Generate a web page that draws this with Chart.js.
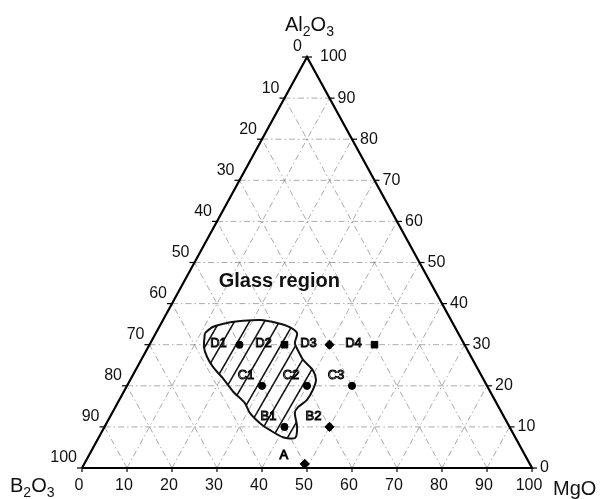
<!DOCTYPE html>
<html>
<head>
<meta charset="utf-8">
<script src="https://cdn.jsdelivr.net/npm/chart.js@4/dist/chart.umd.min.js"></script>
<style>
  html, body { margin: 0; padding: 0; background: #fff; }
  canvas { display: block; }
</style>
</head>
<body>
<canvas id="c" width="601" height="499"></canvas>
<script>
// Tick values along each edge of the ternary diagram (mol %)
const edgeTicks = [0, 10, 20, 30, 40, 50, 60, 70, 80, 90, 100];
const gridLevels = [10, 20, 30, 40, 50, 60, 70, 80, 90];

// Glass compositions (mol %)
const sampleNames = ['A', 'B1', 'B2', 'C1', 'C2', 'C3', 'D1', 'D2', 'D3', 'D4'];
const sampleAl2O3 = [1, 10, 10, 20, 20, 20, 30, 30, 30, 30];
const sampleMgO   = [49, 40, 50, 30, 40, 50, 20, 30, 40, 50];
const sampleB2O3  = [50, 50, 40, 50, 40, 30, 50, 40, 30, 20];
const sampleMarks = ['rectRot', 'circle', 'rectRot', 'circle', 'circle', 'circle', 'circle', 'rect', 'rectRot', 'rect'];

// Boundary of the glass-forming region (Al2O3, MgO in mol %)
const regionAl2O3 = [32.8, 34.3, 35.3, 35.8, 36.0, 35.3, 34.3, 32.8, 30.4, 28.7, 26.3, 23.8, 21.4, 19.0, 16.5, 14.8, 13.4, 10.0, 7.3, 7.5, 9.2, 10.9, 13.4, 15.8, 18.5, 21.9, 24.6, 27.0, 29.4];
const regionMgO   = [10.9, 11.9, 14.6, 17.9, 21.6, 25.7, 29.0, 31.4, 32.1, 33.6, 36.0, 39.4, 41.3, 41.8, 41.7, 40.6, 40.6, 42.8, 43.7, 40.9, 37.2, 34.1, 30.6, 28.3, 24.4, 20.3, 16.8, 14.3, 12.4];

const regionTitle = 'Glass region';
const regionTitleAt = { al: 45.3, mgo: 21.2 };

// Ternary (Al2O3, MgO) -> cartesian plot coordinates
function tern(al, mgo) { return { x: mgo + al / 2, y: al }; }

// Diagonal hatch used inside the glass-forming region
function makeHatch() {
  const w = 15, h = 26;
  const cv = document.createElement('canvas');
  cv.width = w; cv.height = h;
  const g = cv.getContext('2d');
  g.strokeStyle = '#111';
  g.lineWidth = 1.6;
  for (const k of [-1, 0, 1]) {
    g.beginPath();
    g.moveTo(k * w - w, 2 * h);
    g.lineTo(k * w + 2 * w, -h);
    g.stroke();
  }
  return document.getElementById('c').getContext('2d').createPattern(cv, 'repeat');
}

const datasets = [];

// Dash-dot grid lines in the three composition directions
const gridStyle = { borderColor: 'rgba(120,120,120,0.62)', borderWidth: 1, borderDash: [6, 3, 1.5, 3],
  pointRadius: 0, showLine: true, fill: false, clip: false, order: 4 };
for (const v of gridLevels) {
  datasets.push(Object.assign({ data: [tern(v, 0), tern(v, 100 - v)] }, gridStyle));
  datasets.push(Object.assign({ data: [tern(0, v), tern(100 - v, v)] }, gridStyle));
  datasets.push(Object.assign({ data: [tern(0, 100 - v), tern(100 - v, 0)] }, gridStyle));
}

// Glass-forming region
const regionPts = regionAl2O3.map((a, i) => tern(a, regionMgO[i]));
regionPts.push(regionPts[0]);
datasets.push({ data: regionPts, showLine: true, borderColor: '#111', borderWidth: 2,
  backgroundColor: makeHatch(), fill: 'shape', tension: 0.25, pointRadius: 0, clip: false, order: 2 });

// Triangle frame
datasets.push({ data: [tern(0, 0), tern(0, 100), tern(100, 0), tern(0, 0)], showLine: true,
  borderColor: '#000', borderWidth: 2.2, pointRadius: 0, fill: false, clip: false, order: 1 });

// Sample compositions
datasets.push({ data: sampleAl2O3.map((a, i) => tern(a, sampleMgO[i])), showLine: false,
  pointStyle: sampleMarks, pointRadius: sampleMarks.map(s => s === 'circle' ? 3.6 : 4.6),
  backgroundColor: '#000', borderColor: '#000', borderWidth: 1, clip: false, order: 0 });

function drawSub(ctx, parts, x, y, big, small) {
  let cx = x;
  for (const [txt, sub] of parts) {
    ctx.font = (sub ? small : big) + 'px "Liberation Sans", Arial, sans-serif';
    ctx.fillText(txt, cx, sub ? y + 5 : y);
    cx += ctx.measureText(txt).width;
  }
}

const annotations = {
  id: 'ternaryText',
  afterDatasetsDraw(chart) {
    const ctx = chart.ctx, xs = chart.scales.x, ys = chart.scales.y;
    const px = (al, mgo) => { const p = tern(al, mgo); return [xs.getPixelForValue(p.x), ys.getPixelForValue(p.y)]; };
    ctx.save();
    ctx.fillStyle = '#111'; ctx.strokeStyle = '#000'; ctx.lineWidth = 1.2;
    ctx.font = '16px "Liberation Sans", Arial, sans-serif';

    for (const t of edgeTicks) {
      // bottom edge: MgO
      let [x, y] = px(0, t);
      ctx.beginPath(); ctx.moveTo(x, y); ctx.lineTo(x, y + 4); ctx.stroke();
      ctx.textAlign = 'center'; ctx.textBaseline = 'middle';
      ctx.fillText(String(t), x - 3, y + 18);
      // right edge: Al2O3
      [x, y] = px(t, 100 - t);
      ctx.beginPath(); ctx.moveTo(x, y); ctx.lineTo(x + 5, y); ctx.stroke();
      ctx.textAlign = 'left';
      ctx.fillText(String(t), x + (t === 100 ? 13 : 8), y);
      // left edge: B2O3
      [x, y] = px(100 - t, 0);
      ctx.beginPath(); ctx.moveTo(x, y); ctx.lineTo(x - 5, y); ctx.stroke();
      ctx.textAlign = 'right';
      ctx.fillText(String(t), x - 5, y - 10);
    }

    // vertex titles
    ctx.textAlign = 'left'; ctx.textBaseline = 'alphabetic';
    let [x, y] = px(100, 0);
    drawSub(ctx, [['Al', 0], ['2', 1], ['O', 0], ['3', 1]], x - 22, y - 26, 20, 14);
    [x, y] = px(0, 0);
    drawSub(ctx, [['B', 0], ['2', 1], ['O', 0], ['3', 1]], x - 72, y + 24, 20, 14);
    [x, y] = px(0, 100);
    drawSub(ctx, [['MgO', 0]], x + 21, y + 27, 20, 14);

    // region title
    [x, y] = px(regionTitleAt.al, regionTitleAt.mgo);
    ctx.font = 'bold 20px "Liberation Sans", Arial, sans-serif';
    ctx.textAlign = 'center'; ctx.textBaseline = 'middle';
    ctx.fillText(regionTitle, x, y);

    // sample labels
    ctx.font = '13px "Liberation Sans", Arial, sans-serif';
    ctx.lineWidth = 1;
    sampleNames.forEach((n, i) => {
      const [sx, sy] = px(sampleAl2O3[i], sampleMgO[i]);
      const dx = n[0] === 'D' ? -21 : n === 'A' ? -21 : -16;
      const dy = n[0] === 'D' ? -1 : n === 'A' ? -8 : -10;
      ctx.strokeText(n, sx + dx, sy + dy);
    });
    ctx.restore();
  }
};

new Chart(document.getElementById('c'), {
  type: 'scatter',
  data: { datasets },
  options: {
    responsive: false,
    animation: false,
    events: [],
    layout: { padding: { left: 82, right: 69, top: 57, bottom: 31 } },
    scales: {
      x: { type: 'linear', min: 0, max: 100, display: false },
      y: { type: 'linear', min: 0, max: 100, display: false }
    },
    plugins: { legend: { display: false }, tooltip: { enabled: false } }
  },
  plugins: [annotations]
});
</script>
</body>
</html>
